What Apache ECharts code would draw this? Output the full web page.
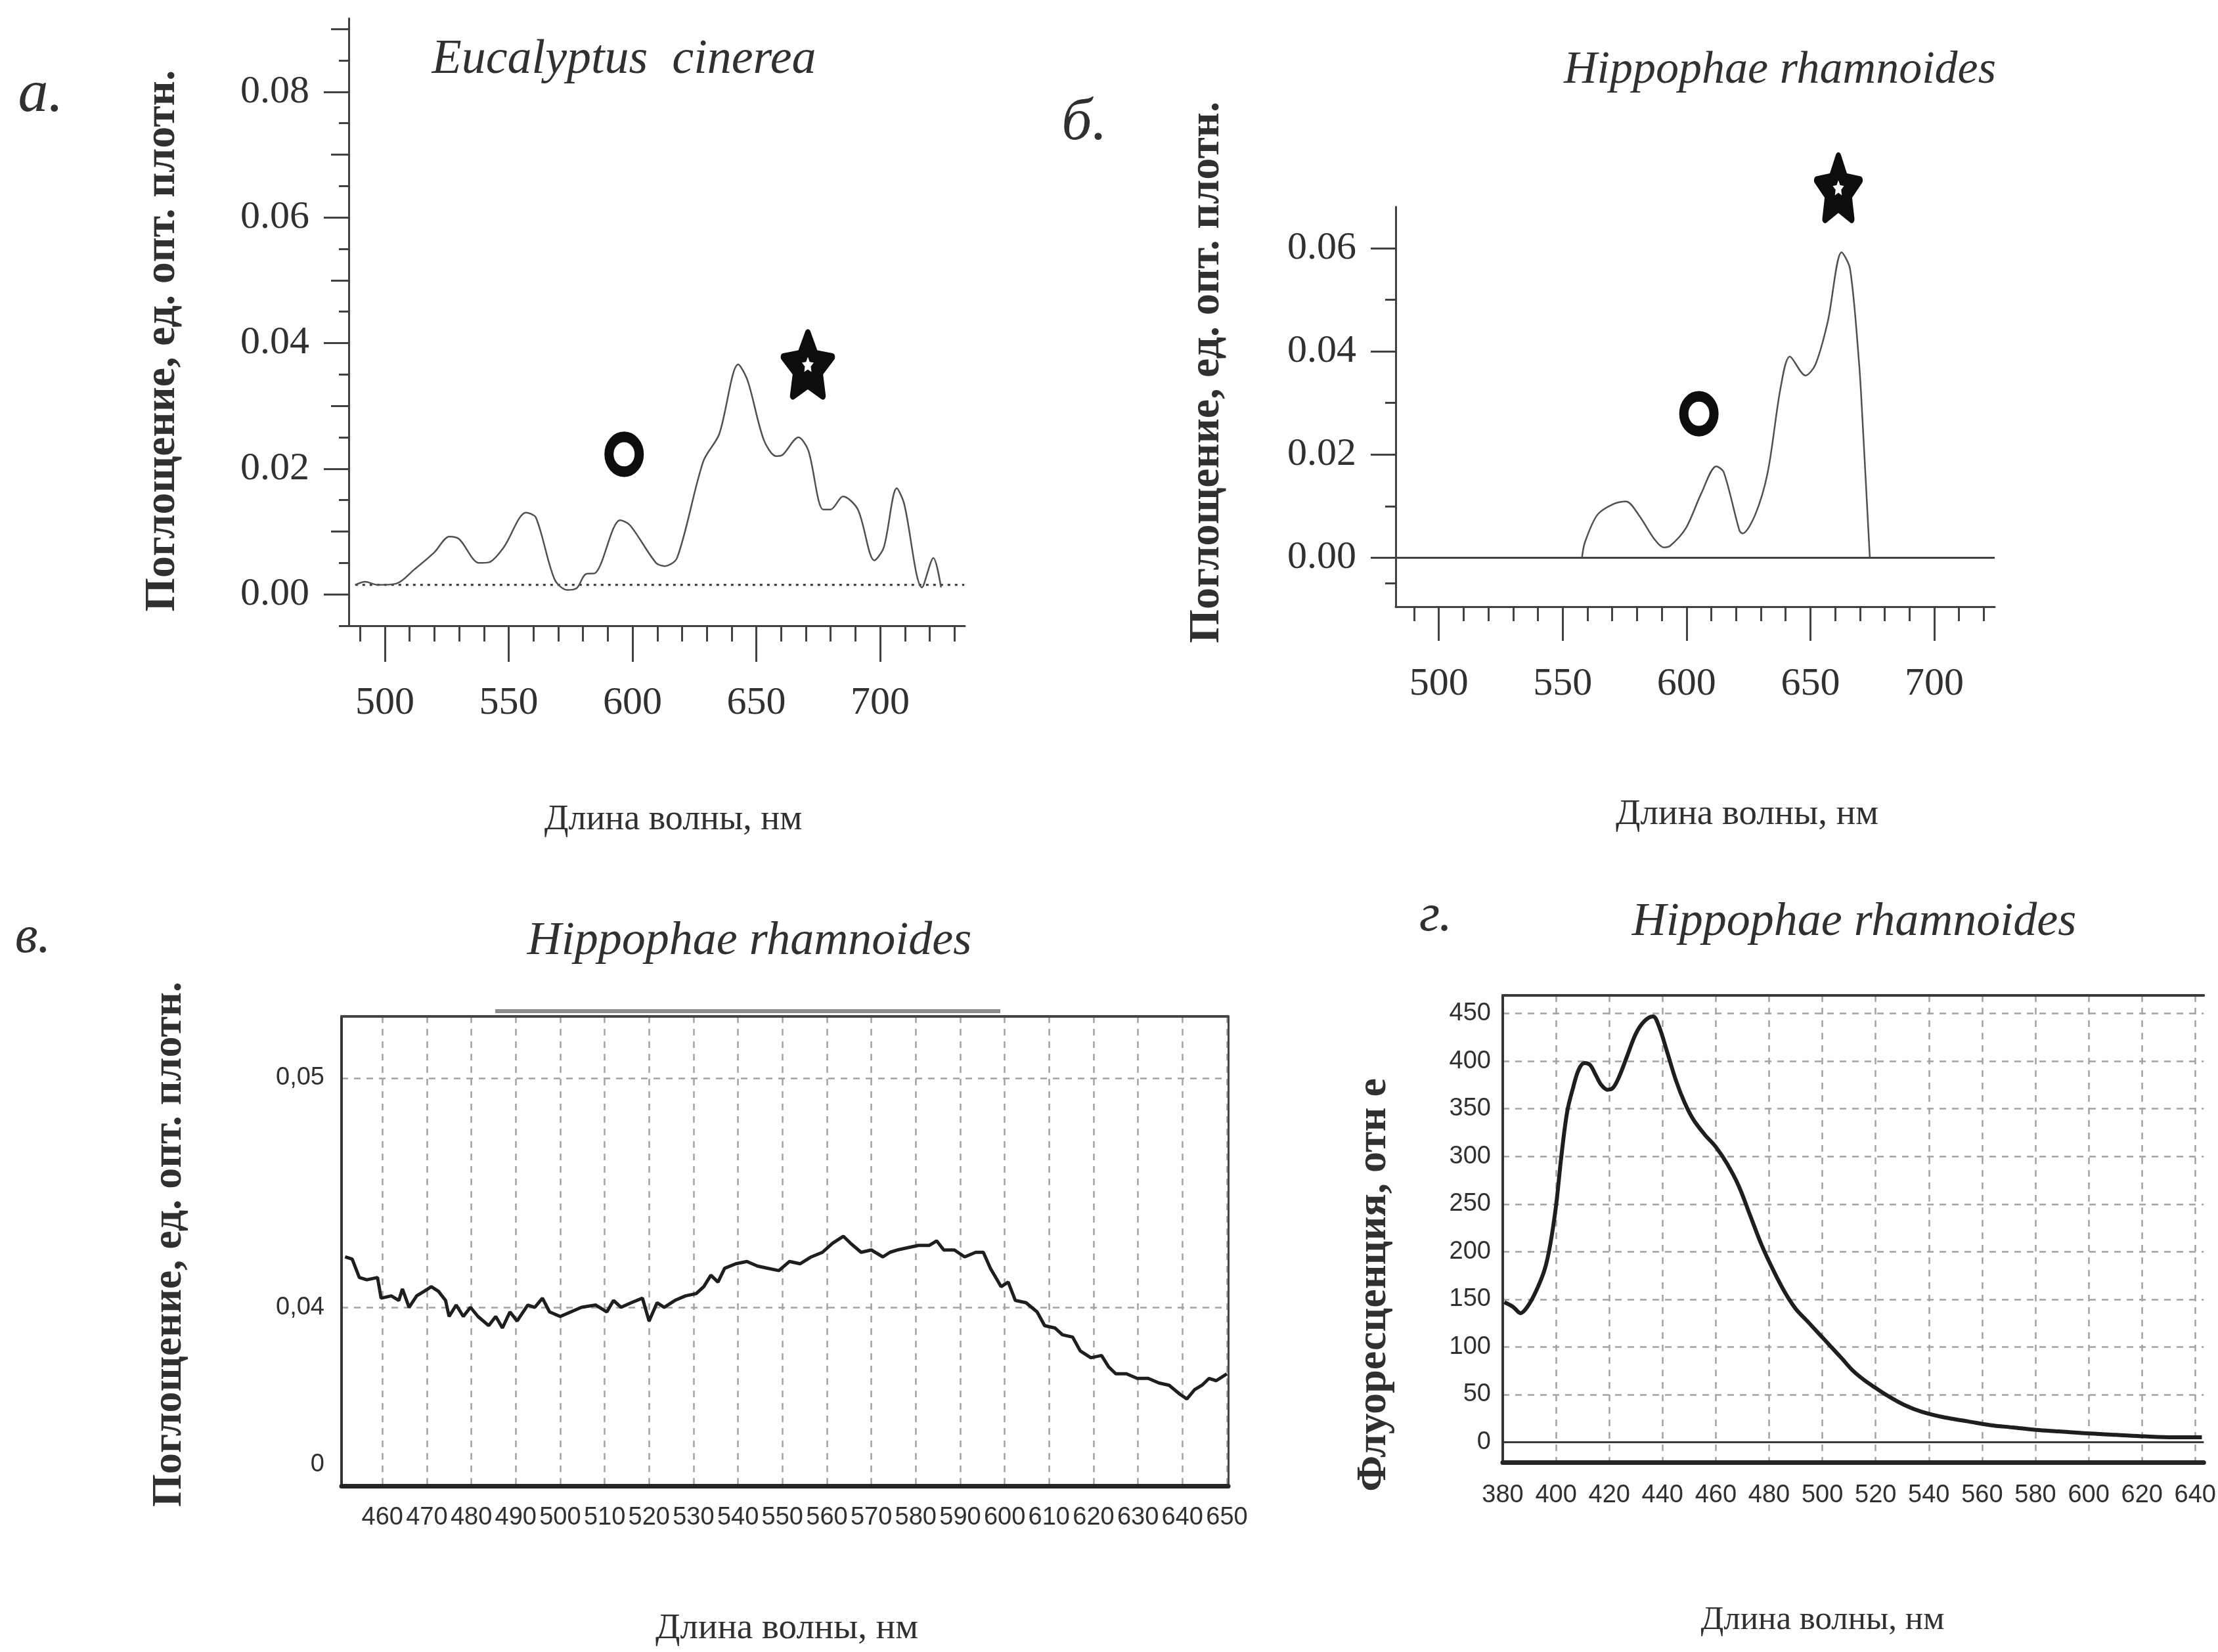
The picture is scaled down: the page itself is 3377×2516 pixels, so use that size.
<!DOCTYPE html>
<html>
<head>
<meta charset="utf-8">
<script src="https://cdn.jsdelivr.net/npm/echarts@6.0.0/dist/echarts.min.js"></script>
<style>html,body{margin:0;padding:0;background:#fff;}#chart{width:3377px;height:2516px;}</style>
</head>
<body>
<div id="chart"></div>
<script>
// ---------- DATA ----------
// Panel а: Eucalyptus cinerea, absorbance
const aNm = [488,492,497,504.6,512,520,526,530,538,542,548,557,561,568.5,573.6,577.5,581,585,595,599,609.5,613,618,628.6,635,642.7,646.5,653,658,660.6,667,671,677,680,685,691,697.7,701.5,706.7,709.7,716.9,721.5,724.6];
const aAbs = [0.0015,0.002,0.0015,0.0017,0.004,0.0067,0.0092,0.0088,0.005,0.0051,0.0075,0.013,0.0122,0.0024,0.0007,0.001,0.0032,0.0034,0.0118,0.011,0.005,0.0045,0.0058,0.0212,0.0255,0.0366,0.034,0.0246,0.022,0.0222,0.025,0.0229,0.0135,0.0135,0.0156,0.0135,0.0054,0.0075,0.0169,0.0144,0.0011,0.0058,0.0011];
const aBaseNm = [488, 734];
const aBaseVal = [0.0015, 0.0015];
const aCircle = [596.6, 0.0223];
const aStar = [670.8, 0.0366];

// Panel б: Hippophae rhamnoides, absorbance
const bNm = [557.8,559,564,570.5,575.6,580.7,587,590.8,593.4,599.7,606,612,615,621.4,622.6,627.7,632.8,638,641.7,648,652,657,662.6,666,669.7,671,674];
const bAbs = [0,0.003,0.0083,0.0104,0.0109,0.0083,0.0036,0.002,0.0023,0.0057,0.0125,0.0177,0.0166,0.0052,0.0047,0.0083,0.0166,0.033,0.039,0.0353,0.0374,0.0457,0.0592,0.056,0.0374,0.027,0];
const bCircle = [605, 0.0279];
const bStar = [661.3, 0.0717];

// Panel в: Hippophae rhamnoides, absorbance (broken axis)
const cNm = [451.6,453.2,454.8,456.5,458.9,459.7,462,463.7,464.5,466,467.7,469.4,471,472.6,474.2,475,476.6,478.2,479.8,481.5,483.9,485.5,487,488.7,490.3,492.7,494.3,496,497.6,500,502.4,504.8,508,510.5,512,513.7,516,518.5,520,521.8,523.4,525.8,528.2,530.6,532.3,533.9,535.5,537,539.5,542,544.4,546.8,549.2,551.6,554,556.5,559,561.3,563.7,565.3,567.7,570,572.6,574.2,575.8,578.2,580.6,583,584.7,586.3,588.7,591,593.5,595.2,596.8,599.2,600.8,602.4,604.8,607.3,609,611.3,613,615.3,617,619.4,621.8,623.4,625,627.4,629.8,632.3,634.7,637,639.5,641,642.7,644.4,646,647.6,650];
const cAbs = [0.0422,0.0421,0.0413,0.0412,0.0413,0.0404,0.0405,0.0403,0.0408,0.0400,0.0405,0.0407,0.0409,0.0407,0.0403,0.0396,0.0401,0.0396,0.0400,0.0396,0.0392,0.0396,0.0391,0.0398,0.0394,0.0401,0.0400,0.0404,0.0398,0.0396,0.0398,0.0400,0.0401,0.0398,0.0403,0.0400,0.0402,0.0404,0.0394,0.0402,0.0400,0.0403,0.0405,0.0406,0.0409,0.0414,0.0411,0.0417,0.0419,0.0420,0.0418,0.0417,0.0416,0.0420,0.0419,0.0422,0.0424,0.0428,0.0431,0.0428,0.0424,0.0425,0.0422,0.0424,0.0425,0.0426,0.0427,0.0427,0.0429,0.0425,0.0425,0.0422,0.0424,0.0424,0.0417,0.0409,0.0411,0.0403,0.0402,0.0398,0.0392,0.0391,0.0388,0.0387,0.0381,0.0378,0.0379,0.0374,0.0371,0.0371,0.0369,0.0369,0.0367,0.0366,0.0362,0.0360,0.0364,0.0366,0.0369,0.0368,0.0371];

// Panel г: Hippophae rhamnoides, fluorescence
const dNm = [380.6,383.9,386.7,389.2,392.4,395.7,397.8,400,402,404.2,406.4,408.5,410.7,412.8,415,417,419.3,421.4,423.6,426.8,430,433.2,436.4,438.6,441.8,445,448.2,451.5,455.8,460,464.3,468.6,472.9,477.2,481.5,485.8,490,494.4,498.7,503,507.3,511.5,515.8,520,524.4,530.9,537.3,545.9,554.5,563,571.6,580.2,588.8,599.5,610.3,621,631.7,642.5];
const dFluo = [147,142,135.5,142,158,181,207,248,300,347,372,391,398,396,385,375,370,372,383,406,429,442,447,437,409,380,357,339,323,310,292,269,238,207,181,158,140,127,114,101,88,75,65,57,49,39,32,26,22,18,15.5,13,11.4,9.3,7.8,6.2,5.2,5.2];

// Tick values / labels
const aXMajor = [500,550,600,650,700];
const aXMinor = [490,510,520,530,540,560,570,580,590,610,620,630,640,660,670,680,690,710,720,730];
const aYMajor = [0,0.02,0.04,0.06,0.08];
const aYMedium = [0.01,0.03,0.05,0.07,0.09];
const aYShort = [-0.005,0.005,0.015,0.025,0.035,0.045,0.055,0.065,0.075,0.085];
const bXMajor = [500,550,600,650,700];
const bXMinor = [490,510,520,530,540,560,570,580,590,610,620,630,640,660,670,680,690,710,720];
const bYMajor = [0,0.02,0.04,0.06];
const bYMinor = [-0.005,0.01,0.03,0.05];
const cXTicks = [460,470,480,490,500,510,520,530,540,550,560,570,580,590,600,610,620,630,640,650];
const cYLabelValues = [0.03315,0.04,0.05];
const cYLabelTexts = ['0','0,04','0,05'];
const cYGrid = [0.04,0.05];
const dXTicks = [380,400,420,440,460,480,500,520,540,560,580,600,620,640];
const dYTicks = [0,50,100,150,200,250,300,350,400,450];

// ---------- STYLE ----------
const serif = '"Liberation Serif", "Times New Roman", serif';
const ink = '#303030';
const axisC = '#404040';
let cond = '"Liberation Sans", Arial, sans-serif', condSize = 38;
(function(){
  const ctx = document.createElement('canvas').getContext('2d');
  ctx.font = '40px "Liberation Sans Narrow", monospace';
  const w1 = ctx.measureText('0000').width;
  ctx.font = '40px monospace';
  const w2 = ctx.measureText('0000').width;
  if (Math.abs(w1 - w2) > 0.5) { cond = '"Liberation Sans Narrow", "Liberation Sans", sans-serif'; condSize = 44; }
})();

const pairs = (xs, ys) => xs.map((x, i) => [x, ys[i]]);
const starPath = 'path://M50,0 L64.7,29.8 L97.6,34.5 L73.8,57.7 L79.4,90.5 L50,75 L20.6,90.5 L26.2,57.7 L2.4,34.5 L35.3,29.8 Z';

function tickAxis(grid, min, max, vals, len, showLine, lineW, labelOpt) {
  return {
    type: 'value', gridIndex: grid, min: min, max: max,
    axisLine: { show: showLine, onZero: false, lineStyle: { color: axisC, width: lineW } },
    axisTick: { show: true, customValues: vals, length: len, lineStyle: { color: axisC, width: 3 } },
    axisLabel: labelOpt ? Object.assign({ show: true, customValues: vals }, labelOpt) : { show: false },
    splitLine: { show: false }
  };
}
const serifLabel = (margin, fmt) => ({ margin: margin, fontSize: 60, fontFamily: serif, color: ink, formatter: fmt });
const fmt2 = v => v.toFixed(2);
const borderAxis = (grid, min, max, pos, color, w) => ({
  type: 'value', gridIndex: grid, min: min, max: max, position: pos,
  axisLine: { show: true, onZero: false, lineStyle: { color: color, width: w } },
  axisTick: { show: false }, axisLabel: { show: false }, splitLine: { show: false }
});
const gridDash = { color: '#a2a2a2', width: 2.5, type: [10, 9] };
const ringStyle = { color: '#fff', borderColor: '#0d0d0d', borderWidth: 15, opacity: 1 };
const starStyle = { color: '#0d0d0d', borderColor: '#0d0d0d', borderWidth: 10, borderJoin: 'round', opacity: 1 };
const starInner = { color: '#fff', opacity: 1 };

const option = {
  backgroundColor: '#ffffff',
  animation: false,
  grid: [
    { left: 531, top: 28, width: 938, height: 925 },
    { left: 2125, top: 315, width: 912, height: 609 },
    { left: 520, top: 1548, width: 1350, height: 715 },
    { left: 2288, top: 1516, width: 1075, height: 711 }
  ],
  xAxis: [
    Object.assign(tickAxis(0, 485.4, 734.2, aXMajor, 55, true, 3, serifLabel(88, v => String(v))), { position: 'bottom' }),
    Object.assign(tickAxis(0, 485.4, 734.2, aXMinor, 24, false, 3, null), { position: 'bottom' }),
    Object.assign(tickAxis(1, 482.6, 724.4, bXMajor, 52, true, 3, serifLabel(88, v => String(v))), { position: 'bottom' }),
    Object.assign(tickAxis(1, 482.6, 724.4, bXMinor, 22, false, 3, null), { position: 'bottom' }),
    {
      type: 'value', gridIndex: 2, min: 450.8, max: 650.3, position: 'bottom',
      axisLine: { show: true, onZero: false, lineStyle: { color: '#262626', width: 7 } },
      axisTick: { show: false, customValues: cXTicks },
      axisLabel: { show: true, customValues: cXTicks, margin: 30, fontSize: condSize, fontFamily: cond, color: ink, formatter: v => String(v) },
      splitLine: { show: true, lineStyle: gridDash }
    },
    borderAxis(2, 450.8, 650.3, 'top', '#454545', 4),
    {
      type: 'value', gridIndex: 3, min: 380, max: 643.2, position: 'bottom',
      axisLine: { show: true, onZero: false, lineStyle: { color: '#262626', width: 7 } },
      axisTick: { show: false, customValues: dXTicks },
      axisLabel: { show: true, customValues: dXTicks, margin: 32, fontSize: condSize, fontFamily: cond, color: ink, formatter: v => String(v) },
      splitLine: { show: true, lineStyle: gridDash }
    },
    borderAxis(3, 380, 643.2, 'top', '#3a3a3a', 4)
  ],
  yAxis: [
    Object.assign(tickAxis(0, -0.005, 0.0917, aYMajor, 38, true, 3, serifLabel(60, fmt2)), { position: 'left' }),
    Object.assign(tickAxis(0, -0.005, 0.0917, aYMedium, 27, false, 3, null), { position: 'left' }),
    Object.assign(tickAxis(0, -0.005, 0.0917, aYShort, 15, false, 3, null), { position: 'left' }),
    Object.assign(tickAxis(1, -0.0095, 0.068, bYMajor, 38, true, 3, serifLabel(60, fmt2)), { position: 'left' }),
    Object.assign(tickAxis(1, -0.0095, 0.068, bYMinor, 16, false, 3, null), { position: 'left' }),
    {
      type: 'value', gridIndex: 2, min: 0.03221, max: 0.05269, position: 'left',
      axisLine: { show: true, onZero: false, lineStyle: { color: '#333', width: 4 } },
      axisTick: { show: false, customValues: cYGrid },
      axisLabel: {
        show: true, customValues: cYLabelValues, margin: 26, fontSize: condSize, fontFamily: cond, color: ink,
        formatter: v => { const i = cYLabelValues.findIndex(t => Math.abs(t - v) < 1e-7); return i >= 0 ? cYLabelTexts[i] : ''; }
      },
      splitLine: { show: true, lineStyle: gridDash }
    },
    borderAxis(2, 0.03221, 0.05269, 'right', '#454545', 3),
    {
      type: 'value', gridIndex: 3, min: -21, max: 469, position: 'left',
      axisLine: { show: true, onZero: false, lineStyle: { color: '#333', width: 4 } },
      axisTick: { show: false, customValues: dYTicks },
      axisLabel: { show: true, customValues: dYTicks, margin: 18, fontSize: condSize, fontFamily: cond, color: ink, formatter: v => String(v) },
      splitLine: { show: true, lineStyle: gridDash }
    }
  ],
  series: [
    { type: 'line', xAxisIndex: 0, yAxisIndex: 0, data: pairs(aNm, aAbs), showSymbol: false, smooth: 0.3,
      lineStyle: { color: '#505050', width: 2.5 }, z: 3 },
    { type: 'line', xAxisIndex: 0, yAxisIndex: 0, data: pairs(aBaseNm, aBaseVal), showSymbol: false,
      lineStyle: { color: '#333', width: 3, type: [4, 7] }, z: 2 },
    { type: 'scatter', xAxisIndex: 0, yAxisIndex: 0, data: [aCircle], symbol: 'circle', symbolSize: [46, 53],
      itemStyle: ringStyle, clip: false, z: 5 },
    { type: 'scatter', xAxisIndex: 0, yAxisIndex: 0, data: [aStar], symbol: starPath, symbolSize: [74, 96],
      itemStyle: starStyle, clip: false, z: 5 },
    { type: 'scatter', xAxisIndex: 0, yAxisIndex: 0, data: [aStar], symbol: starPath, symbolSize: [18, 23],
      itemStyle: starInner, clip: false, z: 6 },

    { type: 'line', xAxisIndex: 2, yAxisIndex: 3, data: pairs(bNm, bAbs), showSymbol: false, smooth: 0.3,
      lineStyle: { color: '#505050', width: 2.5 }, z: 3,
      markLine: { silent: true, symbol: ['none', 'none'], label: { show: false },
        lineStyle: { color: '#404040', width: 3, type: 'solid' }, data: [{ yAxis: 0 }] } },
    { type: 'scatter', xAxisIndex: 2, yAxisIndex: 3, data: [bCircle], symbol: 'circle', symbolSize: [46, 53],
      itemStyle: ringStyle, clip: false, z: 5 },
    { type: 'scatter', xAxisIndex: 2, yAxisIndex: 3, data: [bStar], symbol: starPath, symbolSize: [66, 96],
      itemStyle: starStyle, clip: false, z: 5 },
    { type: 'scatter', xAxisIndex: 2, yAxisIndex: 3, data: [bStar], symbol: starPath, symbolSize: [17, 23],
      itemStyle: starInner, clip: false, z: 6 },

    { type: 'line', xAxisIndex: 4, yAxisIndex: 5, data: pairs(cNm, cAbs), showSymbol: false,
      lineStyle: { color: '#1e1e1e', width: 5 }, z: 3 },

    { type: 'line', xAxisIndex: 6, yAxisIndex: 7, data: pairs(dNm, dFluo), showSymbol: false, smooth: 0.35,
      lineStyle: { color: '#1e1e1e', width: 6 }, z: 3,
      markLine: { silent: true, symbol: ['none', 'none'], label: { show: false },
        lineStyle: { color: '#383838', width: 3, type: 'solid' }, data: [{ yAxis: 0 }] } }
  ],
  graphic: [
    { type: 'line', shape: { x1: 754, y1: 1540, x2: 1523, y2: 1540 }, style: { stroke: '#8c8c8c', lineWidth: 6 } },
    // panel letters
    { type: 'text', x: 62, y: 145, style: { text: 'а.', fontSize: 92, fontStyle: 'italic', fontFamily: serif, fill: ink, align: 'center', verticalAlign: 'middle' } },
    { type: 'text', x: 1651, y: 188, style: { text: 'б.', fontSize: 92, fontStyle: 'italic', fontFamily: serif, fill: ink, align: 'center', verticalAlign: 'middle' } },
    { type: 'text', x: 50, y: 1429, style: { text: 'в.', fontSize: 80, fontStyle: 'italic', fontFamily: serif, fill: ink, align: 'center', verticalAlign: 'middle' } },
    { type: 'text', x: 2186, y: 1396, style: { text: 'г.', fontSize: 80, fontStyle: 'italic', fontFamily: serif, fill: ink, align: 'center', verticalAlign: 'middle' } },
    // titles
    { type: 'text', x: 950, y: 92, style: { text: 'Eucalyptus  cinerea', fontSize: 74, fontStyle: 'italic', fontFamily: serif, fill: ink, align: 'center', verticalAlign: 'middle' } },
    { type: 'text', x: 2710, y: 108, style: { text: 'Hippophae rhamnoides', fontSize: 70, fontStyle: 'italic', fontFamily: serif, fill: ink, align: 'center', verticalAlign: 'middle' } },
    { type: 'text', x: 1141, y: 1434, style: { text: 'Hippophae rhamnoides', fontSize: 72, fontStyle: 'italic', fontFamily: serif, fill: ink, align: 'center', verticalAlign: 'middle' } },
    { type: 'text', x: 2823, y: 1405, style: { text: 'Hippophae rhamnoides', fontSize: 72, fontStyle: 'italic', fontFamily: serif, fill: ink, align: 'center', verticalAlign: 'middle' } },
    // y-axis names
    { type: 'text', x: 248, y: 519, rotation: Math.PI / 2, style: { text: 'Поглощение, ед. опт. плотн.', fontSize: 66, fontWeight: 'bold', fontFamily: serif, fill: ink, align: 'center', verticalAlign: 'middle' } },
    { type: 'text', x: 1838, y: 567, rotation: Math.PI / 2, style: { text: 'Поглощение, ед. опт. плотн.', fontSize: 66, fontWeight: 'bold', fontFamily: serif, fill: ink, align: 'center', verticalAlign: 'middle' } },
    { type: 'text', x: 258, y: 1895, rotation: Math.PI / 2, style: { text: 'Поглощение, ед. опт. плотн.', fontSize: 64, fontWeight: 'bold', fontFamily: serif, fill: ink, align: 'center', verticalAlign: 'middle' } },
    { type: 'text', x: 2092, y: 1957, rotation: Math.PI / 2, style: { text: 'Флуоресценция, отн е', fontSize: 64, fontWeight: 'bold', fontFamily: serif, fill: ink, align: 'center', verticalAlign: 'middle' } },
    // x-axis names
    { type: 'text', x: 1025, y: 1249, style: { text: 'Длина волны, нм', fontSize: 54, fontFamily: serif, fill: ink, align: 'center', verticalAlign: 'middle' } },
    { type: 'text', x: 2660, y: 1241, style: { text: 'Длина волны, нм', fontSize: 55, fontFamily: serif, fill: ink, align: 'center', verticalAlign: 'middle' } },
    { type: 'text', x: 1198, y: 2481, style: { text: 'Длина волны, нм', fontSize: 55, fontFamily: serif, fill: ink, align: 'center', verticalAlign: 'middle' } },
    { type: 'text', x: 2775, y: 2468, style: { text: 'Длина волны, нм', fontSize: 51, fontFamily: serif, fill: ink, align: 'center', verticalAlign: 'middle' } }
  ]
};

const chart = echarts.init(document.getElementById('chart'), null, { renderer: 'canvas', width: 3377, height: 2516 });
chart.setOption(option);
</script>
</body>
</html>
